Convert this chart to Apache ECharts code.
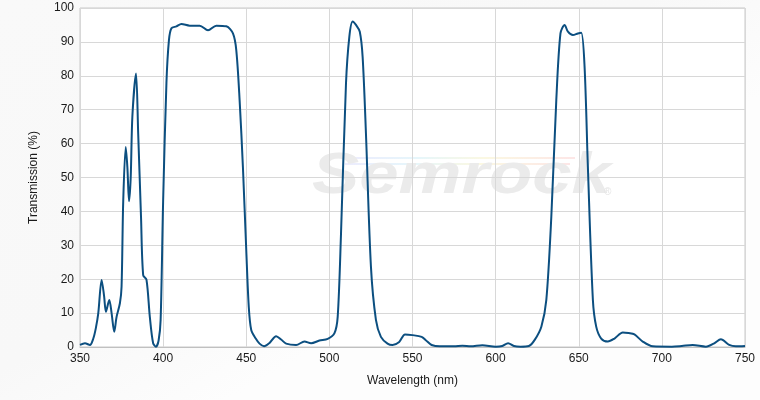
<!DOCTYPE html>
<html>
<head>
<meta charset="utf-8">
<script src="https://cdn.jsdelivr.net/npm/echarts@6/dist/echarts.min.js"></script>
<style>
html,body{margin:0;padding:0;background:#fff;}
#chart{width:760px;height:400px;}
</style>
</head>
<body>
<div id="chart"></div>
<script>
var wavelengths = [350,353,356,358,359.5,361,363,364.5,365.6,367.6,369,370.6,372,374,375,376,377.5,378.5,379.5,380.5,381.5,383.7,385,386.7,388,390,392,394,395.7,397.3,398.5,400,402,403.5,405,408,411,416,422,427,432,438,442,444,446,448,450,451.5,453,455.7,458,460.7,464,468,471,474,480,485,489,494,499,503,505,507,510,512,514,516,518.3,520,522,525,528,531,535,538,542,545.5,550,555.5,558,561.5,566.5,575,580,585,592,600,604,607.5,611,615,620,623.5,627.5,630.5,633.5,636.5,639,641.5,643.5,646.5,649.5,651.5,653.5,655.5,658.5,660.5,663.5,667.5,671.5,676.5,680,683.5,688.5,694.5,706,712,718.5,726.5,731.5,735.5,740.5,744.5,750];
var transmission = [0.6,1.1,0.6,2.5,5.5,10,19.8,15,10.4,13.9,10,4.5,8.9,12.9,17.8,43,59,53,43,50,68,80.7,63,38.4,21.2,19.8,8.9,1.1,0.1,2,8,43,78,90.5,94,94.6,95.3,94.8,94.8,93.4,94.8,94.6,92.5,87.6,72.9,53,28.6,12,5,2.5,1,0.2,1.2,3.2,2.2,1,0.6,1.6,1.1,1.9,2.4,4,8.9,33.5,77.8,91.5,96,95,93,85.6,63,23.7,8,3,1,0.6,1.5,3.7,3.5,3,2,0.6,0.2,0.2,0.4,0.2,0.5,0.1,0.3,1.1,0.3,0.1,0.3,2.1,6,13.9,38.4,72.9,92.5,95,93,92,92.5,92.7,82.7,53,13.9,6,2.5,1.6,2.5,4.3,4.1,3.7,1.6,0.2,0.1,0.3,0.6,0.1,1.1,2.3,0.6,0.2,0.3];
var xTitle = 'Wavelength (nm)';
var yTitle = 'Transmission (%)';

var seriesData = wavelengths.map(function(w,i){return [w, transmission[i]];});
var chart = echarts.init(document.getElementById('chart'), null, {renderer:'canvas'});
var labelFont = {color:'#1a1a1a', fontSize:12, fontFamily:'Liberation Sans, Arial, sans-serif'};
var rainbow = {type:'linear',x:0,y:0,x2:1,y2:0,colorStops:[{offset:0,color:'#ececfd'},{offset:0.3,color:'#e6f6fb'},{offset:0.6,color:'#fbf8e2'},{offset:1,color:'#fde6e6'}]};
chart.setOption({
  animation:false,
  backgroundColor:{type:'linear',x:0,y:0,x2:0.3,y2:1,colorStops:[{offset:0,color:'#f9f9f9'},{offset:0.7,color:'#f8f8f8'},{offset:1,color:'#fdfdfd'}]},
  grid:{left:80,right:15,top:8,bottom:53,show:true,borderColor:'#c8c8c8',borderWidth:1,backgroundColor:'transparent'},
  graphic:[
    {type:'rect',silent:true,z:-2,shape:{x:80,y:8,width:665,height:339},style:{fill:'#ffffff'}},
    {type:'rect',silent:true,z:-1,shape:{x:350,y:157,width:225,height:2},style:{fill:rainbow}},
    {type:'rect',silent:true,z:-1,shape:{x:345,y:163,width:225,height:2},style:{fill:rainbow}},
    {type:'text',silent:true,z:-1,x:312,y:148,scaleX:1.22,style:{text:'Semrock',fill:'#ebebeb',font:'italic bold 58px "Liberation Sans", Arial, sans-serif'}},
    {type:'text',silent:true,z:-1,x:604,y:187,style:{text:'\u00ae',fill:'#e4e4e4',font:'10px "Liberation Sans", Arial, sans-serif'}}
  ],
  xAxis:{
    type:'value',min:350,max:750,interval:50,
    name:xTitle,nameLocation:'middle',nameGap:28,
    nameTextStyle:labelFont,
    axisLine:{show:true,lineStyle:{color:'#c0c0c0'}},
    axisTick:{show:false},
    axisLabel:Object.assign({margin:6},labelFont),
    splitLine:{show:true,lineStyle:{color:'#d8d8d8',width:1}}
  },
  yAxis:{
    type:'value',min:0,max:100,interval:10,
    name:yTitle,nameLocation:'middle',nameGap:40,nameRotate:90,
    nameTextStyle:labelFont,
    axisLine:{show:false},
    axisTick:{show:false},
    axisLabel:Object.assign({margin:6},labelFont),
    splitLine:{show:true,lineStyle:{color:'#d8d8d8',width:1}}
  },
  series:[{
    type:'line',data:seriesData,smooth:0.3,
    showSymbol:false,
    lineStyle:{color:'#0c4f80',width:2},
    itemStyle:{color:'#0c4f80'}
  }]
});
</script>
</body>
</html>
